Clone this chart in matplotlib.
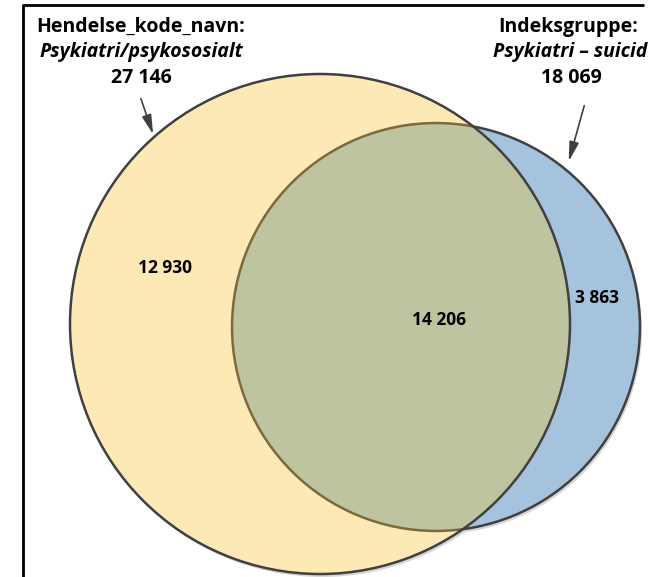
import numpy as np
import matplotlib
matplotlib.use("Agg")
import matplotlib.pyplot as plt
from matplotlib.patches import Circle, FancyArrowPatch

# mengder (totaler og deler)
set_titles = ["Hendelse_kode_navn:", "Indeksgruppe:"]
set_subtitles = ["Psykiatri/psykososialt", "Psykiatri \u2013 suicid"]
set_totals = [27146, 18069]
region_labels = ["12 930", "14 206", "3 863"]
total_labels = ["27 146", "18 069"]

W, H = 649, 577
fig = plt.figure(figsize=(W / 100, H / 100), dpi=100)
ax = fig.add_axes([0, 0, 1, 1])
ax.set_xlim(0, W)
ax.set_ylim(H, 0)
ax.set_aspect("equal")
ax.axis("off")

# radier proporsjonale med areal
r_a = 250
r_b = r_a * np.sqrt(set_totals[1] / set_totals[0])
ca = (320, 324)
cb = (436, 327)

yellow = "#fde9b6"
blue = "#a6c3dd"
green = "#bfc4a0"
edge = "#404040"
brown = "#7a6a3c"

# skygge
for c, r in [(ca, r_a), (cb, r_b)]:
    ax.add_patch(Circle((c[0] + 2, c[1] + 3), r, fc="#d6d6d6", ec="none", zorder=1))

ax.add_patch(Circle(cb, r_b, fc=blue, ec=edge, lw=1.8, zorder=2))
circ_a = Circle(ca, r_a, fc=yellow, ec="none", zorder=3)
ax.add_patch(circ_a)
inter = Circle(cb, r_b, fc=green, ec=brown, lw=1.8, zorder=4)
ax.add_patch(inter)
inter.set_clip_path(circ_a)
ax.add_patch(Circle(ca, r_a, fc="none", ec=edge, lw=1.8, zorder=5))

# ramme
ax.plot([23, 23, 644], [H + 5, 5, 5], color="black", lw=2, zorder=6,
        solid_capstyle="butt")

fam = "Open Sans"
fs = 14
ax.text(141, 27, set_titles[0], ha="center", va="center", fontsize=fs,
        fontweight="bold", family=fam, zorder=7)
ax.text(141, 52, set_subtitles[0], ha="center", va="center", fontsize=fs,
        fontweight="bold", style="italic", family=fam, zorder=7)
ax.text(141, 78, total_labels[0], ha="center", va="center", fontsize=fs,
        fontweight="bold", family=fam, zorder=7)

ax.text(568, 27, set_titles[1], ha="center", va="center", fontsize=fs,
        fontweight="bold", family=fam, zorder=7)
ax.text(570, 52, set_subtitles[1], ha="center", va="center", fontsize=fs,
        fontweight="bold", style="italic", family=fam, zorder=7)
ax.text(571, 78, total_labels[1], ha="center", va="center", fontsize=fs,
        fontweight="bold", family=fam, zorder=7)

for tail, head in [((140, 96), (154, 137)), ((585, 103), (568, 164))]:
    ax.add_patch(FancyArrowPatch(tail, head, arrowstyle="-|>,head_length=0.9,head_width=0.22",
                                 mutation_scale=13, color="#404040", lw=1.2, zorder=7))

# tall i feltene
pos = [(165, 268), (439, 320), (597, 298)]
for (x, y), t in zip(pos, region_labels):
    ax.text(x, y, t, ha="center", va="center", fontsize=12.5, fontweight="bold",
            family=fam, zorder=7)

fig.savefig("out.png", dpi=100)
